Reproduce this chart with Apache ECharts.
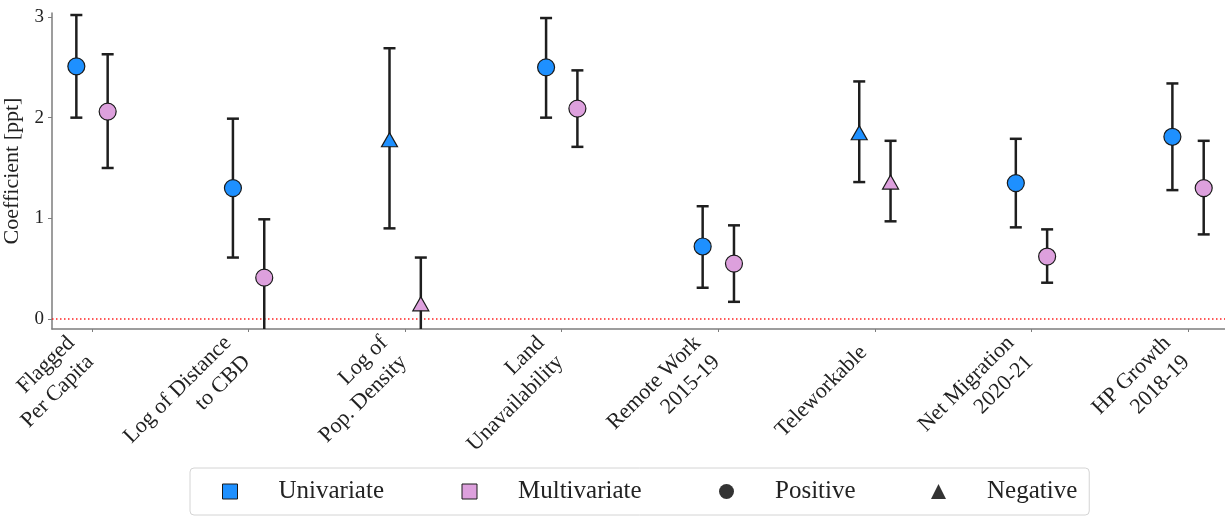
<!DOCTYPE html>
<html>
<head>
<meta charset="utf-8">
<script src="https://cdn.jsdelivr.net/npm/echarts@6/dist/echarts.min.js"></script>
<style>
  html, body { margin: 0; padding: 0; background: #fff; }
  #chart { width: 1225px; height: 517px; }
</style>
</head>
<body>
<div id="chart"></div>
<script>
// Regression coefficients (ppt) with confidence intervals, per explanatory variable
const categories = [
  'Flagged\nPer Capita',
  'Log of Distance\nto CBD',
  'Log of\nPop. Density',
  'Land\nUnavailability',
  'Remote Work\n2015-19',
  'Teleworkable',
  'Net Migration\n2020-21',
  'HP Growth\n2018-19'
];
const effectSign = ['Positive', 'Positive', 'Negative', 'Positive', 'Positive', 'Negative', 'Positive', 'Positive'];

const uniCoef = [2.51, 1.30, 1.78, 2.50, 0.72, 1.85, 1.35, 1.81];
const uniLow  = [2.00, 0.61, 0.90, 2.00, 0.31, 1.36, 0.91, 1.28];
const uniHigh = [3.02, 1.99, 2.69, 2.99, 1.12, 2.36, 1.79, 2.34];

const multiCoef = [2.06, 0.41, 0.15, 2.09, 0.55, 1.36, 0.62, 1.30];
const multiLow  = [1.50, -0.17, -0.31, 1.71, 0.17, 0.97, 0.36, 0.84];
const multiHigh = [2.63, 0.99, 0.61, 2.47, 0.93, 1.77, 0.89, 1.77];

const yTicks = [0, 1, 2, 3];

const FONT = 'Liberation Serif';
const SPINE = '#7d7d7d';
const BAR = '#1e1e1e';
const shift = 0.1; // horizontal dodge between the two models

const xPositions = categories.map((_, i) => i);

function pointData(coef, dx) {
  return coef.map((v, i) => [i + dx, v]);
}
function errData(low, high, dx) {
  return low.map((lo, i) => [i + dx, lo, high[i]]);
}

function renderErr(params, api) {
  const x = api.value(0);
  const lo = api.coord([x, api.value(1)]);
  const hi = api.coord([x, api.value(2)]);
  const cap = 6;
  const style = { stroke: BAR, lineWidth: 2.5, fill: null, lineCap: 'butt' };
  return {
    type: 'group',
    children: [
      { type: 'line', shape: { x1: lo[0], y1: lo[1], x2: hi[0], y2: hi[1] }, style: style },
      { type: 'line', shape: { x1: hi[0] - cap, y1: hi[1], x2: hi[0] + cap, y2: hi[1] }, style: style },
      { type: 'line', shape: { x1: lo[0] - cap, y1: lo[1], x2: lo[0] + cap, y2: lo[1] }, style: style }
    ]
  };
}

const markerSymbol = (val, p) => effectSign[p.dataIndex] === 'Negative' ? 'triangle' : 'circle';
const markerSize = (val, p) => effectSign[p.dataIndex] === 'Negative' ? [16, 14] : 17;

const chart = echarts.init(document.getElementById('chart'), null, { renderer: 'canvas' });

chart.setOption({
  animation: false,
  backgroundColor: '#ffffff',
  textStyle: { fontFamily: FONT },
  grid: { left: 52, right: 0, top: 13, bottom: 188, outerBoundsMode: 'none', containLabel: false },
  xAxis: {
    type: 'value',
    min: -0.2555,
    max: 7.236,
    splitLine: { show: false },
    axisLine: { show: true, onZero: false, lineStyle: { color: SPINE, width: 1.5 } },
    axisTick: { show: true, customValues: xPositions, length: 3, lineStyle: { color: SPINE, width: 1 } },
    axisLabel: {
      customValues: xPositions,
      formatter: v => categories[Math.round(v)],
      rotate: 45,
      margin: 9,
      padding: [0, 16, 0, 0],
      fontFamily: FONT,
      fontSize: 22,
      lineHeight: 27,
      color: '#222'
    }
  },
  yAxis: {
    type: 'value',
    min: -0.1,
    max: 3.04,
    name: 'Coefficient [ppt]',
    nameLocation: 'middle',
    nameRotate: 90,
    nameGap: 23,
    nameTextStyle: { fontFamily: FONT, fontSize: 22, color: '#222' },
    splitLine: { show: false },
    axisLine: { show: true, onZero: false, lineStyle: { color: SPINE, width: 1.5 } },
    axisTick: { show: true, customValues: yTicks, length: 4, lineStyle: { color: SPINE, width: 1 } },
    axisLabel: { customValues: yTicks, margin: 8, fontFamily: FONT, fontSize: 19, color: '#222' }
  },
  legend: {
    left: 190,
    top: 468,
    orient: 'horizontal',
    padding: [11, 12, 11, 32],
    itemGap: 70,
    itemWidth: 15,
    itemHeight: 15,
    borderColor: '#d4d4d4',
    borderWidth: 1,
    borderRadius: 4,
    selectedMode: false,
    formatter: name => '{s| }{' + name.charAt(0).toLowerCase() + '|' + name + '}',
    textStyle: {
      fontFamily: FONT,
      fontSize: 25,
      color: '#222',
      rich: {
        s: { width: 36 },
        u: { width: 113, fontSize: 25, fontFamily: FONT, color: '#222', lineHeight: 25 },
        m: { width: 131, fontSize: 25, fontFamily: FONT, color: '#222', lineHeight: 25 },
        p: { width: 86, fontSize: 25, fontFamily: FONT, color: '#222', lineHeight: 25 },
        n: { width: 90, fontSize: 25, fontFamily: FONT, color: '#222', lineHeight: 25 }
      }
    },
    data: [
      { name: 'Univariate', icon: 'rect', itemStyle: { color: '#1E90FF', borderColor: '#1a1a1a', borderWidth: 1 } },
      { name: 'Multivariate', icon: 'rect', itemStyle: { color: '#DDA0DD', borderColor: '#1a1a1a', borderWidth: 1 } },
      { name: 'Positive', icon: 'circle', itemStyle: { color: '#000', borderWidth: 0 } },
      { name: 'Negative', icon: 'triangle', itemStyle: { color: '#000', borderWidth: 0 } }
    ]
  },
  series: [
    {
      name: 'Univariate CI',
      type: 'custom',
      renderItem: renderErr,
      clip: true,
      z: 3,
      encode: { x: 0, y: [1, 2] },
      data: errData(uniLow, uniHigh, -shift),
      silent: true,
      markLine: {
        silent: true,
        symbol: 'none',
        label: { show: false },
        lineStyle: { color: '#ff2020', width: 1.5, type: [1.5, 2.5] },
        data: [{ yAxis: 0 }],
        z: 1
      }
    },
    {
      name: 'Multivariate CI',
      type: 'custom',
      renderItem: renderErr,
      clip: true,
      z: 3,
      encode: { x: 0, y: [1, 2] },
      data: errData(multiLow, multiHigh, shift),
      silent: true
    },
    {
      name: 'Univariate',
      type: 'scatter',
      z: 5,
      symbol: markerSymbol,
      symbolSize: markerSize,
      itemStyle: { color: '#1E90FF', borderColor: '#1a1a1a', borderWidth: 1.2, opacity: 1 },
      emphasis: { disabled: true },
      data: pointData(uniCoef, -shift)
    },
    {
      name: 'Multivariate',
      type: 'scatter',
      z: 5,
      symbol: markerSymbol,
      symbolSize: markerSize,
      itemStyle: { color: '#DDA0DD', borderColor: '#1a1a1a', borderWidth: 1.2, opacity: 1 },
      emphasis: { disabled: true },
      data: pointData(multiCoef, shift)
    },
    { name: 'Positive', type: 'scatter', symbol: 'circle', itemStyle: { color: '#000' }, data: [] },
    { name: 'Negative', type: 'scatter', symbol: 'triangle', itemStyle: { color: '#000' }, data: [] }
  ]
});
</script>
</body>
</html>
